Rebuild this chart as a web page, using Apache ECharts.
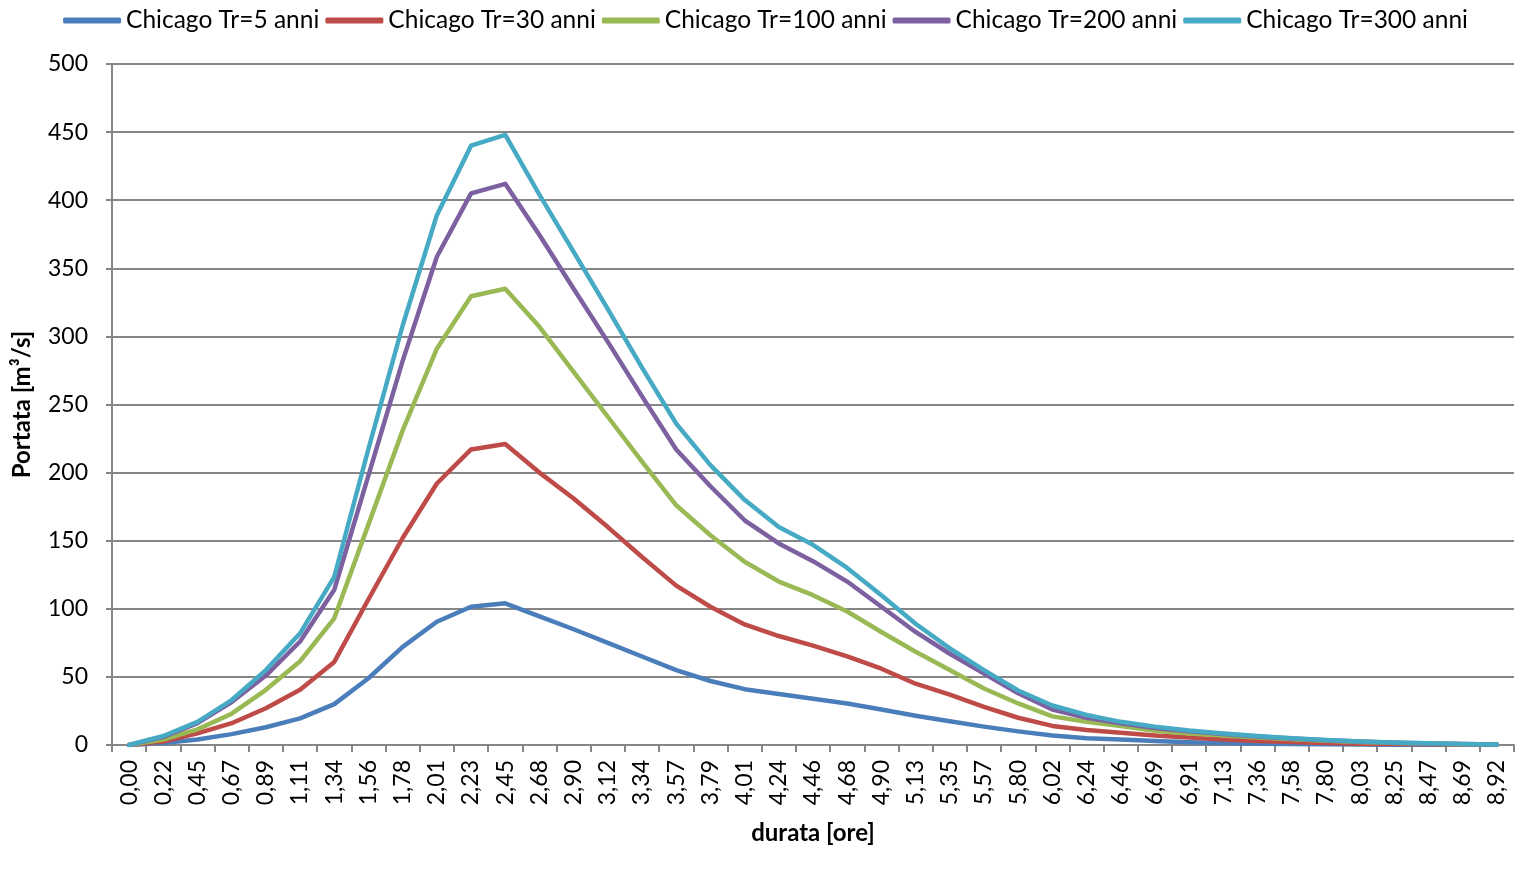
<!DOCTYPE html>
<html>
<head>
<meta charset="utf-8">
<script src="https://cdn.jsdelivr.net/npm/echarts@6/dist/echarts.min.js"></script>
<style>
  html, body { margin: 0; padding: 0; background: #fff; }
  #chart { width: 1531px; height: 882px; }
</style>
</head>
<body>
<div id="chart"></div>
<script>
// Durata [ore] – categorie dell'asse x
const durata = ['0,00','0,22','0,45','0,67','0,89','1,11','1,34','1,56','1,78','2,01','2,23','2,45','2,68','2,90','3,12','3,34','3,57','3,79','4,01','4,24','4,46','4,68','4,90','5,13','5,35','5,57','5,80','6,02','6,24','6,46','6,69','6,91','7,13','7,36','7,58','7,80','8,03','8,25','8,47','8,69','8,92'];

// Portata [m³/s] per ogni tempo di ritorno
const tr5 = [0, 1.5, 4, 8, 13, 19.5, 30, 49, 72, 90.5, 101.5, 104, 94.5, 85, 75, 65, 55, 47, 41, 37.5, 34, 30.5, 26, 21.5, 17.5, 13.5, 10, 7, 5, 4, 3, 2, 1.5, 1, 0.7, 0.5, 0.3, 0.2, 0.1, 0.1, 0];
const tr30 = [0, 2.5, 8.5, 16, 27, 40.5, 61, 107, 152, 192, 217, 221, 200, 181, 160, 138, 117, 101.5, 88.5, 80, 73, 65, 56, 45, 37, 28, 20, 14, 11, 9, 7, 5.5, 4, 3, 2.2, 1.5, 1, 0.7, 0.5, 0.3, 0.2];
const tr100 = [0, 4, 11.5, 23, 40.5, 61.5, 93, 162, 231, 291, 329.5, 335, 307, 274, 241, 208, 176, 154, 134.5, 120, 110, 98, 83, 68.5, 55, 41.5, 30.5, 21, 17, 14, 10.5, 8.5, 7, 5.5, 4.3, 3.2, 2.2, 1.5, 1, 0.6, 0.3];
const tr200 = [0, 6, 16, 31.5, 51, 76, 114, 198, 282, 358.5, 405, 412, 374.5, 335, 296, 256, 217, 190, 165, 148, 135, 120, 101.5, 83, 67, 52.5, 38, 26, 20, 16, 12.5, 10, 8, 6.3, 4.8, 3.5, 2.5, 1.7, 1.1, 0.7, 0.4];
const tr300 = [0, 6.6, 17, 33, 55, 82, 123.5, 217.5, 308, 389, 440, 448, 404, 362, 320, 277, 236, 205.5, 180, 160, 147, 130, 110, 89, 71, 55, 40, 29, 22, 17, 13.5, 10.7, 8.5, 6.6, 5, 3.7, 2.6, 1.8, 1.2, 0.7, 0.4];

const seriesNames = ['Chicago Tr=5 anni', 'Chicago Tr=30 anni', 'Chicago Tr=100 anni', 'Chicago Tr=200 anni', 'Chicago Tr=300 anni'];
const seriesData = [tr5, tr30, tr100, tr200, tr300];
const colors = ['#4A7EBB', '#BE4B48', '#98B954', '#7D60A0', '#46AAC5'];

const FONT = 'Lato, "Liberation Sans", sans-serif';
const AXIS_GRAY = '#868686';

const chart = echarts.init(document.getElementById('chart'), null, { renderer: 'canvas' });

chart.setOption({
  animation: false,
  backgroundColor: '#ffffff',
  color: colors,
  textStyle: { fontFamily: FONT, color: '#000' },
  legend: {
    top: 3,
    left: 'center',
    icon: 'roundRect',
    itemWidth: 58,
    itemHeight: 6,
    itemGap: 6,
    textStyle: { fontFamily: FONT, fontSize: 24.5, color: '#000' },
    data: seriesNames
  },
  grid: { left: 112, right: 17, top: 64, bottom: 137, containLabel: false },
  xAxis: {
    type: 'category',
    data: durata,
    boundaryGap: true,
    name: 'durata [ore]',
    nameLocation: 'middle',
    nameGap: 76,
    nameTextStyle: { fontFamily: FONT, fontSize: 24, fontWeight: 'bold', color: '#000' },
    axisLine: { lineStyle: { color: AXIS_GRAY, width: 2 } },
    axisTick: { show: true, alignWithLabel: false, length: 7, lineStyle: { color: AXIS_GRAY, width: 2 } },
    axisLabel: { rotate: 90, interval: 0, margin: 15, fontFamily: FONT, fontSize: 23, color: '#000' },
    splitLine: { show: false }
  },
  yAxis: {
    type: 'value',
    min: 0,
    max: 500,
    interval: 50,
    name: 'Portata [m³/s]',
    nameLocation: 'middle',
    nameGap: 78,
    nameTextStyle: { fontFamily: FONT, fontSize: 24, fontWeight: 'bold', color: '#000' },
    axisLine: { show: true, lineStyle: { color: AXIS_GRAY, width: 2 } },
    axisTick: { show: true, length: 6, lineStyle: { color: AXIS_GRAY, width: 2 } },
    axisLabel: { margin: 24, fontFamily: FONT, fontSize: 23, color: '#000' },
    splitLine: { show: true, lineStyle: { color: AXIS_GRAY, width: 2 } }
  },
  series: seriesNames.map((name, i) => ({
    name: name,
    type: 'line',
    data: seriesData[i],
    symbol: 'none',
    smooth: false,
    lineStyle: { width: 4.5, color: colors[i], join: 'round', cap: 'round' },
    itemStyle: { color: colors[i] },
    z: 2 + i
  }))
});
</script>
</body>
</html>
